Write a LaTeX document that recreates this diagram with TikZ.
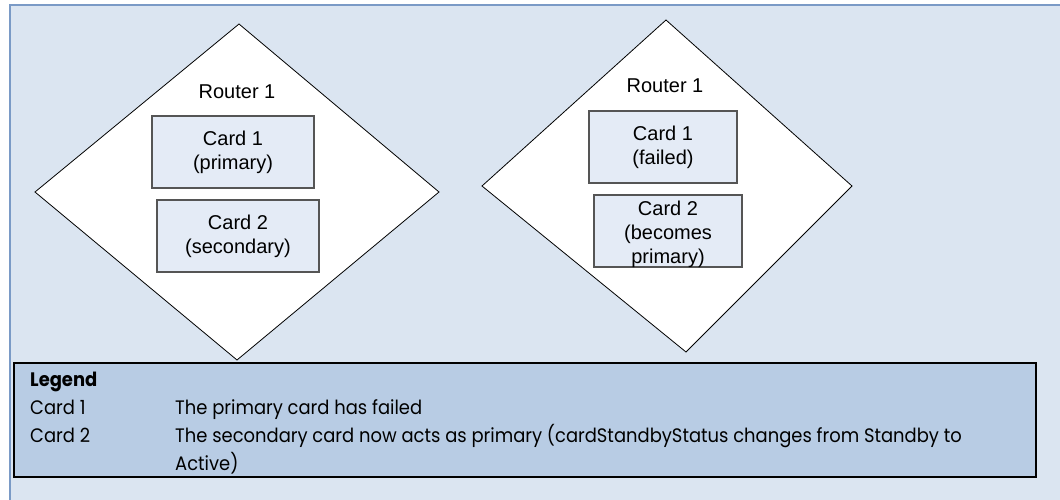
\documentclass[tikz,border=0pt]{standalone}
\usepackage{fontspec}
\setmainfont{Liberation Sans}
\newfontfamily\legfont{Poppins}
\definecolor{bgblue}{HTML}{DBE5F1}
\definecolor{framecol}{HTML}{7A9AC6}
\definecolor{legfill}{HTML}{B8CCE4}
\definecolor{cardfill}{HTML}{E4EBF6}
\definecolor{cardline}{HTML}{555555}
\newcommand{\legsq}[1]{\scalebox{0.92}[1]{#1}}
\tikzset{
  router/.style={draw=black, line width=0.8pt, fill=white, line join=miter},
  cardbox/.style={draw=cardline, line width=1.2pt, fill=cardfill},
  cardtext/.style={align=center, inner sep=0pt, font=\fontsize{20}{24}\selectfont},
  legtext/.style={anchor=base west, inner sep=0pt, font=\legfont\fontsize{19.5}{23}\selectfont},
}
\begin{document}
\begin{tikzpicture}[x=1pt,y=-1pt]
\useasboundingbox (0,0) rectangle (1060,499);
\fill[white] (0,0) rectangle (1060,499);
\draw[framecol, line width=1.8pt, fill=bgblue] (10,5) rectangle (1075,515);
% diamonds
\draw[router] (239,24) -- (439,192) -- (237,360) -- (35,192) -- cycle;
\draw[router] (666,20) -- (852,186) -- (686,352) -- (482,186) -- cycle;
% cards
\node[cardbox, minimum width=162pt, minimum height=72pt, inner sep=0pt] (c1a) at (233,152) {};
\node[cardbox, minimum width=162pt, minimum height=72pt, inner sep=0pt] (c2a) at (238,236) {};
\node[cardbox, minimum width=148pt, minimum height=72pt, inner sep=0pt] (c1b) at (663,147) {};
\node[cardbox, minimum width=148pt, minimum height=72pt, inner sep=0pt] (c2b) at (668,231) {};
\node[cardtext] (r1a) at (237,92) {Router 1};
\node[cardtext] (r1b) at (665,86) {Router 1};
\node[cardtext] (t1a) at (c1a) {Card 1\\(primary)};
\node[cardtext] (t2a) at (c2a) {Card 2\\(secondary)};
\node[cardtext] (t1b) at (c1b) {Card 1\\(failed)};
\node[cardtext] (t2b) at ([yshift=-3pt]c2b.center) {Card 2\\(becomes\\primary)};
% legend
\draw[black, line width=1.8pt, fill=legfill] (14,363) rectangle (1036,477);
\node[legtext, font=\legfont\bfseries\fontsize{19.5}{23}\selectfont] (lg) at (30,386) {\legsq{Legend}};
\node[legtext] (l1) at (30,414) {\legsq{Card 1}};
\node[legtext] (l2) at (30,442) {\legsq{Card 2}};
\node[legtext] (d1) at (175,414) {\legsq{The primary card has failed}};
\node[legtext] (d2) at (175,442) {\legsq{The secondary card now acts as primary (cardStandbyStatus changes from Standby to}};
\node[legtext] (d3) at (175,470) {\legsq{Active)}};
\end{tikzpicture}
\end{document}
